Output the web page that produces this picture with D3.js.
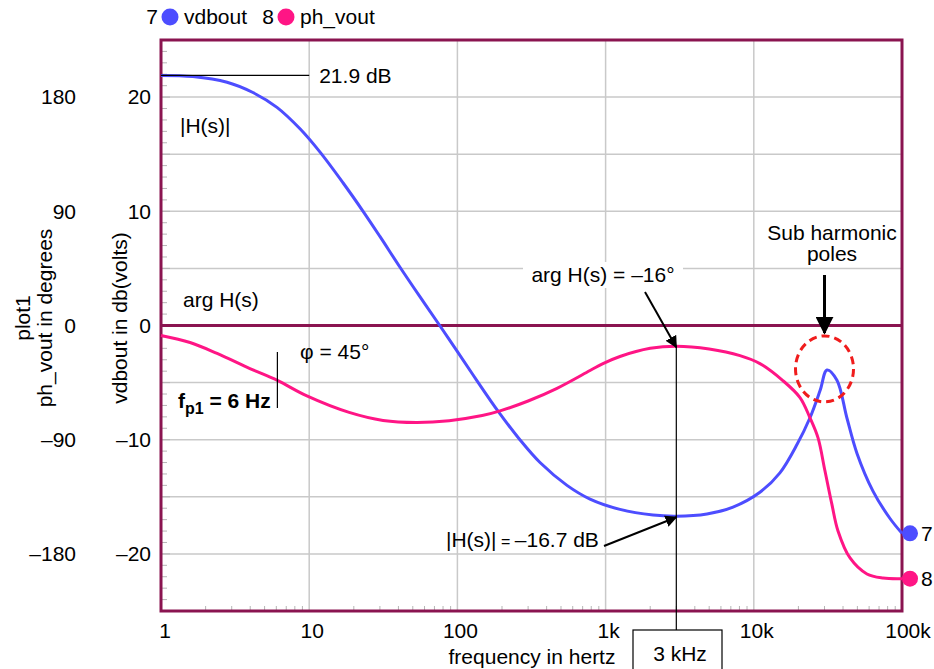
<!DOCTYPE html>
<html>
<head>
<meta charset="utf-8">
<script src="https://cdn.jsdelivr.net/npm/d3@7"></script>
<style>
  body { margin: 0; background: #fff; }
  text { font-family: "Liberation Sans", Arial, Helvetica, sans-serif; fill: #000; }
</style>
</head>
<body>
<div id="chart"></div>
<script>
// vdbout (dB)
const magFreq = [1, 1.64, 2.79, 4.17, 6.06, 8.7, 11.8, 16.9, 23.1, 30, 41, 56, 76, 99, 135, 188, 264, 361, 549, 785,
  1250, 2090, 3000, 4830, 7240, 11000, 15000, 19600, 23900, 28000, 31200, 36400, 42500, 49700, 63700, 83000, 100000];
const magDb = [21.9, 21.8, 21.3, 20.4, 19.1, 17.2, 15.2, 12.5, 10.0, 7.8, 5.1, 2.5, 0, -2.2, -4.8, -7.5, -10.0, -12.0, -14.0, -15.2,
  -16.1, -16.6, -16.7, -16.5, -15.9, -14.6, -12.9, -10.4, -8.1, -5.7, -3.9, -4.8, -8.1, -11.2, -14.5, -16.9, -18.2];

// ph_vout (degrees)
const phaseFreq = [1, 1.57, 2.39, 3.98, 6.1, 9.65, 18.6, 31.5, 53, 88, 147, 194, 300, 470, 785, 960, 1250, 2000, 3000,
  5000, 8070, 11000, 15700, 20500, 23900, 27100, 30200, 33600, 37000, 44600, 58000, 74500, 100000];
const phaseDeg = [-7.9, -13.4, -22, -33.9, -43.3, -55.5, -68.5, -74.8, -76.4, -75, -71, -67.3, -59.5, -49.5, -35.5, -30, -24.4, -18, -16.3,
  -18.5, -23.7, -30, -43.4, -56.8, -72.6, -88.4, -114.5, -140.6, -161.9, -183.2, -195.8, -199, -199.5];

const dbTicks = [-20, -10, 0, 10, 20];
const degTicks = [-180, -90, 0, 90, 180];
const freqTicks = [1, 10, 100, 1e3, 1e4, 1e5];
const freqTickLabels = ["1", "10", "100", "1k", "10k", "100k"];
const seriesIds = ["7", "8"];
const seriesNames = ["vdbout", "ph_vout"];

const W = 934, H = 669;
const plotL = 161, plotR = 902, plotT = 40, plotB = 611;
const MAROON = "#8a1450", GRID = "#c9c9c9", BLUE = "#4d4dff", PINK = "#ff1585";

const x = d3.scaleLog().domain([1, 1e5]).range([plotL, plotR]);
const y = d3.scaleLinear().domain([-25, 25]).range([plotB, plotT]);
const yDeg = d3.scaleLinear().domain([-225, 225]).range([plotB, plotT]);

const svg = d3.select("#chart").append("svg")
  .attr("width", W).attr("height", H)
  .style("font-size", "21px");

svg.append("defs").append("marker")
  .attr("id", "arrow")
  .attr("viewBox", "0 0 10 10")
  .attr("refX", 9).attr("refY", 5)
  .attr("markerWidth", 6).attr("markerHeight", 6)
  .attr("markerUnits", "strokeWidth")
  .attr("orient", "auto")
  .append("path").attr("d", "M0,0L10,5L0,10z").attr("fill", "#000");

// grid
svg.append("g").selectAll("line")
  .data(d3.range(-20, 21, 5).filter(d => d !== 0))
  .enter().append("line")
  .attr("x1", plotL).attr("x2", plotR)
  .attr("y1", d => y(d)).attr("y2", d => y(d))
  .attr("stroke", GRID).attr("stroke-width", 1.5);

svg.append("g").selectAll("line")
  .data(freqTicks.slice(1, -1))
  .enter().append("line")
  .attr("x1", d => x(d)).attr("x2", d => x(d))
  .attr("y1", plotT).attr("y2", plotB)
  .attr("stroke", GRID).attr("stroke-width", 1.5);

// minor ticks left (1 dB)
svg.append("g").selectAll("line")
  .data(d3.range(-24, 25, 1))
  .enter().append("line")
  .attr("x1", plotL).attr("x2", d => plotL + (d % 5 === 0 ? 9 : 6))
  .attr("y1", d => y(d)).attr("y2", d => y(d))
  .attr("stroke", "#b5b5b5").attr("stroke-width", 1);

// minor ticks bottom (2..9 per decade)
const minorF = [];
for (let dec = 1; dec < 1e5; dec *= 10) for (let k = 2; k <= 9; k++) minorF.push(dec * k);
svg.append("g").selectAll("line")
  .data(minorF)
  .enter().append("line")
  .attr("x1", d => x(d)).attr("x2", d => x(d))
  .attr("y1", plotB - 5).attr("y2", plotB)
  .attr("stroke", "#b5b5b5").attr("stroke-width", 1);

// zero line + frame
svg.append("line")
  .attr("x1", plotL).attr("x2", plotR).attr("y1", y(0)).attr("y2", y(0))
  .attr("stroke", MAROON).attr("stroke-width", 3);
svg.append("rect")
  .attr("x", plotL).attr("y", plotT)
  .attr("width", plotR - plotL).attr("height", plotB - plotT)
  .attr("fill", "none").attr("stroke", MAROON).attr("stroke-width", 3);

// tick labels
svg.append("g").selectAll("text")
  .data(dbTicks).enter().append("text")
  .attr("x", 151).attr("y", d => y(d)).attr("dy", "0.35em")
  .attr("text-anchor", "end")
  .text(d => d < 0 ? "\u2013" + Math.abs(d) : d);

svg.append("g").selectAll("text")
  .data(degTicks).enter().append("text")
  .attr("x", 76).attr("y", d => yDeg(d)).attr("dy", "0.35em")
  .attr("text-anchor", "end")
  .text(d => d < 0 ? "\u2013" + Math.abs(d) : d);

svg.append("g").selectAll("text")
  .data(freqTicks).enter().append("text")
  .attr("x", (d, i) => x(d) + (i === 0 ? 4 : i === freqTicks.length - 1 ? 6 : 3))
  .attr("y", 638)
  .attr("text-anchor", "middle")
  .text((d, i) => freqTickLabels[i]);

// axis titles
svg.append("text")
  .attr("x", 532).attr("y", 664)
  .attr("text-anchor", "middle")
  .text("frequency in hertz");

[["plot1", 23], ["ph_vout in degrees", 45], ["vdbout in db(volts)", 120]].forEach(([t, cx]) => {
  svg.append("text")
    .attr("transform", `translate(${cx},318) rotate(-90)`)
    .attr("dy", "0.35em")
    .attr("text-anchor", "middle")
    .text(t);
});

// series lines
const magData = magFreq.map((f, i) => ({ f, v: magDb[i] }));
const phData = phaseFreq.map((f, i) => ({ f, v: phaseDeg[i] }));

svg.append("path")
  .datum(magData)
  .attr("fill", "none").attr("stroke", BLUE).attr("stroke-width", 3)
  .attr("d", d3.line().x(d => x(d.f)).y(d => y(d.v)).curve(d3.curveCatmullRom.alpha(0.5)));

svg.append("path")
  .datum(phData)
  .attr("fill", "none").attr("stroke", PINK).attr("stroke-width", 3)
  .attr("d", d3.line().x(d => x(d.f)).y(d => yDeg(d.v)).curve(d3.curveCatmullRom.alpha(0.5)));

// end markers
const ends = [
  { id: seriesIds[0], color: BLUE, cy: y(magDb[magDb.length - 1]) },
  { id: seriesIds[1], color: PINK, cy: yDeg(phaseDeg[phaseDeg.length - 1]) }
];
ends.forEach(e => {
  svg.append("circle").attr("cx", plotR + 8).attr("cy", e.cy).attr("r", 8).attr("fill", e.color);
  svg.append("text").attr("x", 921).attr("y", e.cy).attr("dy", "0.35em").text(e.id);
});

// legend
const legend = [
  { id: seriesIds[0], name: seriesNames[0], color: BLUE, cx: 170 },
  { id: seriesIds[1], name: seriesNames[1], color: PINK, cx: 286 }
];
legend.forEach(l => {
  svg.append("text").attr("x", l.cx - 12).attr("y", 17).attr("dy", "0.35em")
    .attr("text-anchor", "end").text(l.id);
  svg.append("circle").attr("cx", l.cx).attr("cy", 17).attr("r", 8.5).attr("fill", l.color);
  svg.append("text").attr("x", l.cx + 14).attr("y", 17).attr("dy", "0.35em").text(l.name);
});

// annotations
// 21.9 dB
svg.append("line")
  .attr("x1", plotL).attr("x2", x(10)).attr("y1", y(magDb[0])).attr("y2", y(magDb[0]))
  .attr("stroke", "#000").attr("stroke-width", 1.2);
svg.append("text").attr("x", x(10) + 10).attr("y", y(magDb[0])).attr("dy", "0.35em").text("21.9 dB");

svg.append("text").attr("x", 180).attr("y", 126).attr("dy", "0.35em").text("|H(s)|");
svg.append("text").attr("x", 183).attr("y", 300).attr("dy", "0.35em").text("arg H(s)");

// fp1 marker
svg.append("line")
  .attr("x1", x(6.1)).attr("x2", x(6.1)).attr("y1", 352).attr("y2", 408)
  .attr("stroke", "#000").attr("stroke-width", 1.2);
svg.append("text").attr("x", 300).attr("y", 352).attr("dy", "0.35em").text("\u03c6 = 45\u00b0");
const fp = svg.append("text").attr("x", 178).attr("y", 408).attr("font-weight", "bold");
fp.append("tspan").text("f");
fp.append("tspan").attr("dy", 6).attr("font-size", "16px").text("p1");
fp.append("tspan").attr("dy", -6).text(" = 6 Hz");

// 3 kHz marker
const f3 = 3000;
svg.append("line")
  .attr("x1", x(f3)).attr("x2", x(f3)).attr("y1", yDeg(-16.3)).attr("y2", 630)
  .attr("stroke", "#000").attr("stroke-width", 1.2);
svg.append("rect")
  .attr("x", 633).attr("y", 630).attr("width", 89).attr("height", 50)
  .attr("fill", "#fff").attr("stroke", "#000").attr("stroke-width", 1.2);
svg.append("text").attr("x", 680).attr("y", 654).attr("dy", "0.35em")
  .attr("text-anchor", "middle").text("3 kHz");

// arg H(s) = -16
svg.append("rect").attr("x", 523).attr("y", 262).attr("width", 160).attr("height", 26).attr("fill", "#fff");
svg.append("text").attr("x", 603).attr("y", 275).attr("dy", "0.35em")
  .attr("text-anchor", "middle").text("arg H(s) = \u201316\u00b0");
svg.append("line")
  .attr("x1", 645).attr("y1", 292).attr("x2", x(f3)).attr("y2", yDeg(-16.3) + 1)
  .attr("stroke", "#000").attr("stroke-width", 2).attr("marker-end", "url(#arrow)");

// |H(s)| = -16.7 dB
const hl = svg.append("text").attr("x", 446).attr("y", 540).attr("dy", "0.35em");
hl.append("tspan").text("|H(s)|");
hl.append("tspan").attr("font-size", "16px").text(" = ");
hl.append("tspan").text(" \u201316.7 dB");
svg.append("line")
  .attr("x1", 604).attr("y1", 546).attr("x2", x(f3)).attr("y2", y(-16.7) + 1)
  .attr("stroke", "#000").attr("stroke-width", 2).attr("marker-end", "url(#arrow)");

// sub harmonic poles
const fPole = 30000;
svg.append("text").attr("x", 832).attr("y", 233).attr("dy", "0.35em")
  .attr("text-anchor", "middle").text("Sub harmonic");
svg.append("text").attr("x", 832).attr("y", 254).attr("dy", "0.35em")
  .attr("text-anchor", "middle").text("poles");
svg.append("line")
  .attr("x1", x(fPole)).attr("y1", 275).attr("x2", x(fPole)).attr("y2", 333)
  .attr("stroke", "#000").attr("stroke-width", 3).attr("marker-end", "url(#arrow)");
svg.append("ellipse")
  .attr("cx", x(fPole)).attr("cy", y(-3.8))
  .attr("rx", 29).attr("ry", 33)
  .attr("fill", "none").attr("stroke", "#f01c1c").attr("stroke-width", 3)
  .attr("stroke-dasharray", "8,5");
</script>
</body>
</html>
